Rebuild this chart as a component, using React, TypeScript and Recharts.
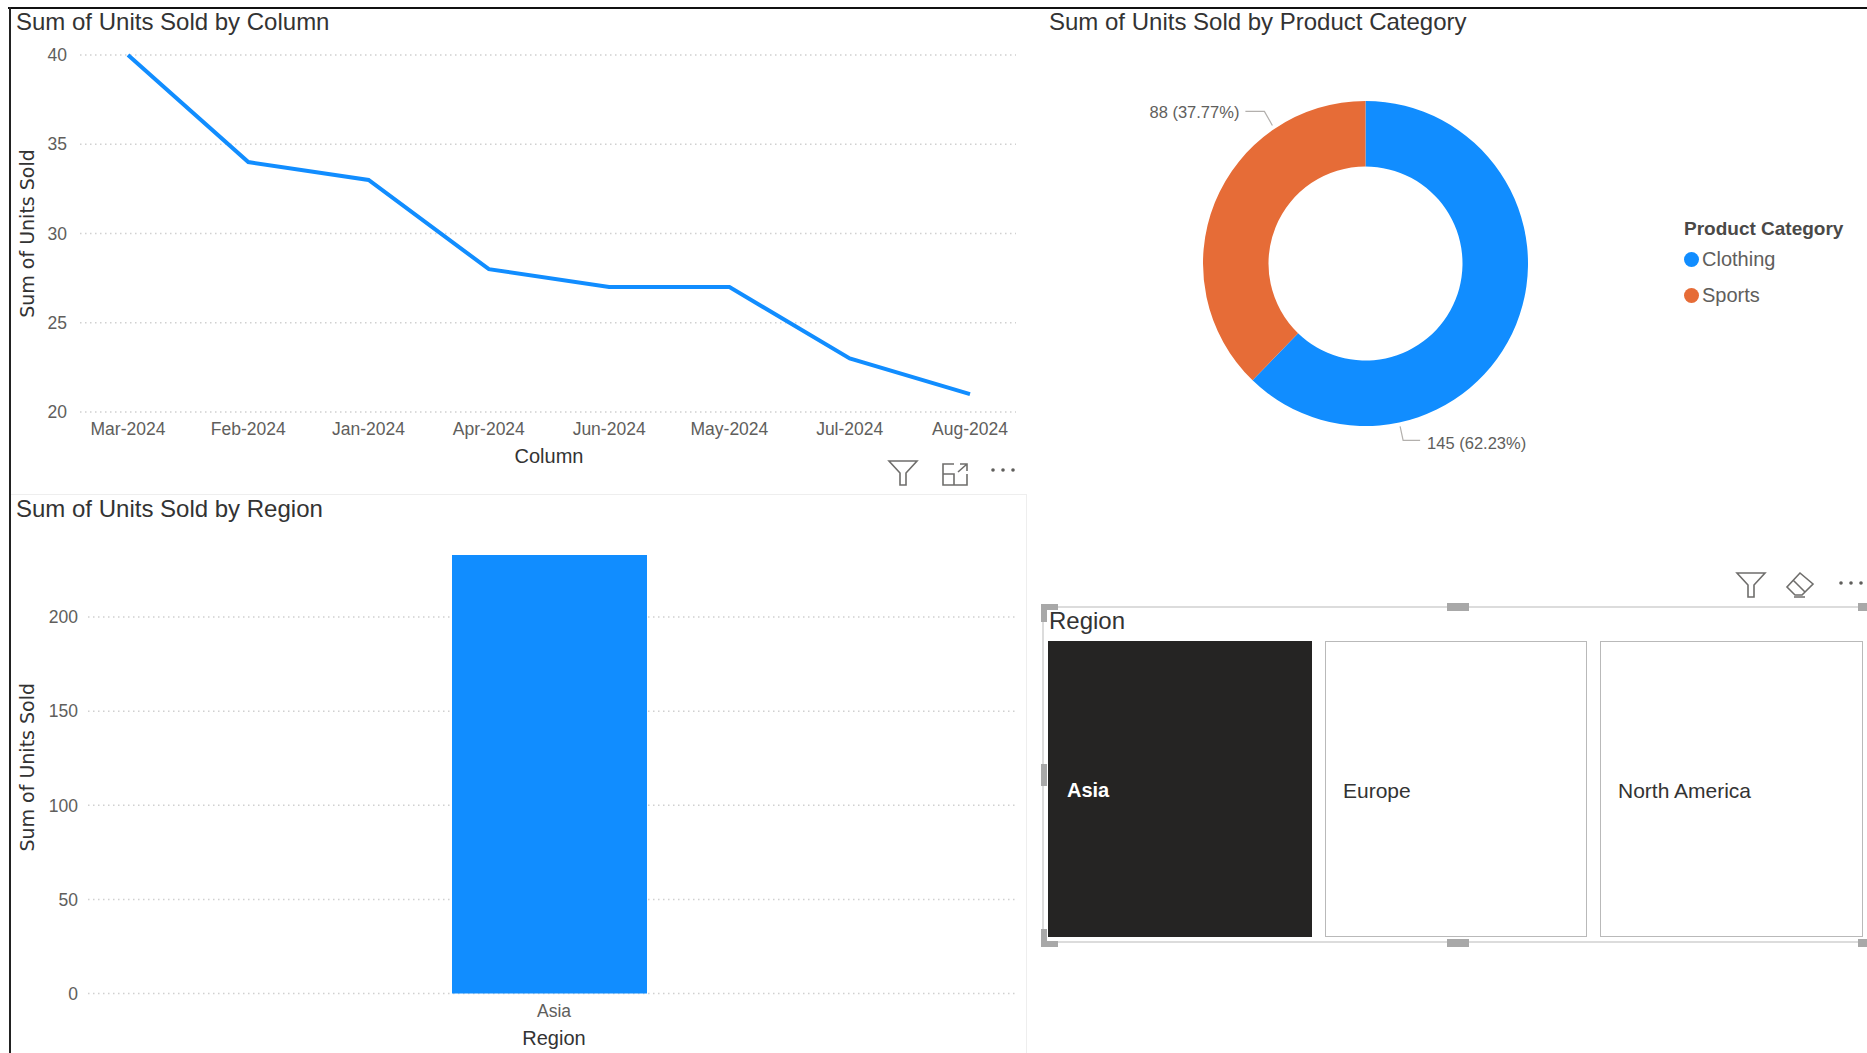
import {
  LineChart,
  Line,
  BarChart,
  Bar,
  PieChart,
  Pie,
  Cell,
  Legend,
  XAxis,
  YAxis,
  CartesianGrid,
} from "recharts"

const months = ["Mar-2024", "Feb-2024", "Jan-2024", "Apr-2024", "Jun-2024", "May-2024", "Jul-2024", "Aug-2024"]
const monthUnits = [40, 34, 33, 28, 27, 27, 23, 21]
const monthTicks = [20, 25, 30, 35, 40]

const regionNames = ["Asia"]
const regionUnits = [233]
const regionTicks = [0, 50, 100, 150, 200]

const categories = ["Clothing", "Sports"]
const categoryUnits = [145, 88]
const categoryLabels = ["145 (62.23%)", "88 (37.77%)"]

const slicerRegions = ["Asia", "Europe", "North America"]

const BLUE = "#118DFF"
const ORANGE = "#E66C37"
const SANS = '"Liberation Sans", sans-serif'
const WIDE = '"DejaVu Sans", sans-serif'
const TEXT = "#333333"
const MUTED = "#605E5C"
const DARK_TILE = "#252423"

const lineData = months.map((month, i) => ({ month, units: monthUnits[i] }))
const barData = regionNames.map((region, i) => ({ region, units: regionUnits[i] }))
const pieData = categories.map((name, i) => ({ name, value: categoryUnits[i], label: categoryLabels[i] }))

function Title({ x, y, children }: { x: number; y: number; children: string }) {
  return (
    <div
      style={{
        position: "absolute",
        left: x,
        top: y,
        fontFamily: SANS,
        fontSize: 24,
        lineHeight: "30px",
        color: TEXT,
        whiteSpace: "nowrap",
      }}
    >
      {children}
    </div>
  )
}

function TrendChart() {
  return (
    <div style={{ position: "absolute", left: 0, top: 0 }}>
      <LineChart width={1040} height={490} data={lineData} margin={{ top: 55, right: 24, bottom: 0, left: 0 }}>
        <CartesianGrid
          vertical={false}
          horizontalValues={monthTicks}
          stroke="#d0d0d0"
          strokeWidth={1.5}
          strokeDasharray="1.5 3.5"
        />
        <XAxis
          dataKey="month"
          height={78}
          axisLine={false}
          tickLine={false}
          tickSize={0}
          tickMargin={11}
          padding={{ left: 48, right: 46 }}
          interval={0}
          tick={{ fontFamily: SANS, fontSize: 17.5, fill: MUTED }}
          label={{
            value: "Column",
            position: "insideBottom",
            offset: 27,
            dx: 1,
            style: { fontFamily: SANS, fontSize: 20, fill: TEXT },
          }}
        />
        <YAxis
          width={80}
          domain={[20, 40]}
          ticks={monthTicks}
          axisLine={false}
          tickLine={false}
          tickSize={0}
          tickMargin={13}
          tick={{ fontFamily: SANS, fontSize: 17.5, fill: MUTED }}
          label={{
            value: "Sum of Units Sold",
            angle: -90,
            position: "insideLeft",
            offset: 27,
            style: { fontFamily: WIDE, fontSize: 19, fill: TEXT, textAnchor: "middle" },
          }}
        />
        <Line dataKey="units" stroke={BLUE} strokeWidth={4} dot={false} strokeLinejoin="miter" isAnimationActive={false} />
      </LineChart>
    </div>
  )
}

function RegionChart() {
  return (
    <div style={{ position: "absolute", left: 0, top: 495 }}>
      <BarChart width={1040} height={558} data={barData} margin={{ top: 60, right: 22, bottom: 0, left: 0 }}>
        <CartesianGrid
          vertical={false}
          horizontalValues={regionTicks}
          stroke="#d0d0d0"
          strokeWidth={1.5}
          strokeDasharray="1.5 3.5"
        />
        <XAxis
          dataKey="region"
          height={59.5}
          axisLine={false}
          tickLine={false}
          tickSize={0}
          tickMargin={11}
          padding={{ left: 0, right: 8 }}
          tick={{ fontFamily: SANS, fontSize: 17.5, fill: MUTED, dx: 5 }}
          label={{
            value: "Region",
            position: "insideBottom",
            offset: 8,
            dx: 1,
            style: { fontFamily: SANS, fontSize: 20, fill: TEXT },
          }}
        />
        <YAxis
          width={88}
          domain={[0, 233]}
          ticks={regionTicks}
          axisLine={false}
          tickLine={false}
          tickSize={0}
          tickMargin={10}
          tick={{ fontFamily: SANS, fontSize: 17.5, fill: MUTED }}
          label={{
            value: "Sum of Units Sold",
            angle: -90,
            position: "insideLeft",
            offset: 27,
            dy: -7,
            style: { fontFamily: WIDE, fontSize: 19, fill: TEXT, textAnchor: "middle" },
          }}
        />
        <Bar dataKey="units" fill={BLUE} barSize={195} isAnimationActive={false} />
      </BarChart>
    </div>
  )
}

// power bi pushes these labels away from the slice middle, so the leaders are set by hand
const leaderLayout: Record<string, { angle: number; elbow: [number, number]; end: [number, number]; anchor: string; dy: number }> = {
  Clothing: { angle: 168, elbow: [3, 14], end: [20, 14], anchor: "start", dy: 4 },
  Sports: { angle: 326, elbow: [-8, -14], end: [-27, -14], anchor: "end", dy: 2 },
}

function renderSliceLabel(props: any) {
  const { cx, cy, outerRadius, name, payload } = props
  const layout = leaderLayout[name]
  const rad = (layout.angle * Math.PI) / 180
  const r = outerRadius + 4
  const sx = cx + Math.sin(rad) * r
  const sy = cy - Math.cos(rad) * r
  const ex = sx + layout.end[0]
  const ey = sy + layout.end[1]
  const textX = ex + (layout.anchor === "start" ? 7 : -6)
  return (
    <g>
      <polyline
        points={`${sx},${sy} ${sx + layout.elbow[0]},${sy + layout.elbow[1]} ${ex},${ey}`}
        fill="none"
        stroke="#b3b0ad"
        strokeWidth={1.2}
      />
      <text
        x={textX}
        y={ey + layout.dy}
        textAnchor={layout.anchor}
        dominantBaseline="middle"
        fontFamily={SANS}
        fontSize={16.5}
        fill={MUTED}
      >
        {payload.label}
      </text>
    </g>
  )
}

function CategoryLegend({ payload }: any) {
  return (
    <div style={{ fontFamily: SANS, color: MUTED }}>
      <div style={{ fontSize: 19, fontWeight: 700, lineHeight: "24px", color: "#4a4947", whiteSpace: "nowrap" }}>
        Product Category
      </div>
      {(payload ?? []).map((item: any) => (
        <div key={item.value} style={{ display: "flex", alignItems: "center", height: 36.5, fontSize: 20 }}>
          <span
            style={{
              width: 15,
              height: 15,
              borderRadius: "50%",
              background: item.color,
              marginRight: 3,
              flex: "none",
            }}
          />
          {item.value}
        </div>
      ))}
    </div>
  )
}

function CategoryChart() {
  return (
    <div style={{ position: "absolute", left: 1040, top: 0 }}>
      <PieChart width={827} height={520} margin={{ top: 0, right: 0, bottom: 0, left: 0 }}>
        <Pie
          data={pieData}
          dataKey="value"
          nameKey="name"
          cx={325.5}
          cy={263.5}
          innerRadius={97}
          outerRadius={162.5}
          startAngle={90}
          endAngle={-270}
          stroke="none"
          label={renderSliceLabel}
          labelLine={false}
          isAnimationActive={false}
        >
          <Cell fill={BLUE} />
          <Cell fill={ORANGE} />
        </Pie>
        <Legend
          content={<CategoryLegend />}
          layout="vertical"
          wrapperStyle={{ position: "absolute", left: 644, top: 217, width: 180, bottom: "auto", right: "auto" }}
        />
      </PieChart>
    </div>
  )
}

function Funnel({ x, y }: { x: number; y: number }) {
  return (
    <svg style={{ position: "absolute", left: x, top: y }} width={32} height={28} viewBox="0 0 32 28">
      <path d="M2 2 H30 L19 14 V26 H13 V14 Z" fill="none" stroke="#6f6e6c" strokeWidth={1.6} />
    </svg>
  )
}

function Dots({ x, y }: { x: number; y: number }) {
  return (
    <svg style={{ position: "absolute", left: x, top: y }} width={28} height={6} viewBox="0 0 28 6">
      <circle cx={3} cy={3} r={1.8} fill="#605E5C" />
      <circle cx={13} cy={3} r={1.8} fill="#605E5C" />
      <circle cx={23} cy={3} r={1.8} fill="#605E5C" />
    </svg>
  )
}

function Handle({ x, y, w, h }: { x: number; y: number; w: number; h: number }) {
  return <div style={{ position: "absolute", left: x, top: y, width: w, height: h, background: "#a8a8a8" }} />
}

function Slicer() {
  const tiles = [
    { left: 1048, width: 264 },
    { left: 1325, width: 262 },
    { left: 1600, width: 263 },
  ]
  return (
    <>
      <div
        style={{
          position: "absolute",
          left: 1042,
          top: 606,
          width: 840,
          height: 337,
          border: "2px solid #dcdcdc",
          boxSizing: "border-box",
        }}
      />
      <Handle x={1041} y={604} w={17} h={6} />
      <Handle x={1041} y={604} w={6} h={18} />
      <Handle x={1447} y={603} w={22} h={8} />
      <Handle x={1858} y={603} w={9} h={8} />
      <Handle x={1041} y={764} w={6} h={22} />
      <Handle x={1041} y={941} w={17} h={6} />
      <Handle x={1041} y={929} w={6} h={18} />
      <Handle x={1447} y={939} w={22} h={8} />
      <Handle x={1858} y={939} w={9} h={8} />
      <Title x={1049} y={606}>Region</Title>
      {slicerRegions.map((region, i) => {
        const selected = i === 0
        return (
          <div
            key={region}
            style={{
              position: "absolute",
              left: tiles[i].left,
              top: 641,
              width: tiles[i].width,
              height: 296,
              boxSizing: "border-box",
              background: selected ? DARK_TILE : "#fff",
              border: selected ? "none" : "1.5px solid #b9b9b9",
              color: selected ? "#fff" : TEXT,
              fontFamily: SANS,
              fontSize: selected ? 20 : 21,
              fontWeight: selected ? 700 : 400,
              paddingLeft: selected ? 19 : 17,
              display: "flex",
              alignItems: "center",
              paddingTop: 3,
            }}
          >
            {region}
          </div>
        )
      })}
    </>
  )
}

export default function App() {
  return (
    <div
      style={{
        position: "absolute",
        left: 0,
        top: 0,
        width: 1867,
        height: 1053,
        background: "#fff",
        overflow: "hidden",
      }}
    >
      <div style={{ position: "absolute", left: 8, top: 7, width: 1859, height: 2, background: "#111" }} />
      <div style={{ position: "absolute", left: 9, top: 7, width: 2, height: 1046, background: "#222" }} />
      <div
        style={{
          position: "absolute",
          left: 11,
          top: 494,
          width: 1016,
          height: 559,
          borderTop: "1.5px solid #eeeeee",
          borderRight: "1.5px solid #eeeeee",
          boxSizing: "border-box",
        }}
      />

      <TrendChart />
      <RegionChart />
      <CategoryChart />

      <Title x={16} y={7}>Sum of Units Sold by Column</Title>
      <Title x={16} y={494}>Sum of Units Sold by Region</Title>
      <Title x={1049} y={7}>Sum of Units Sold by Product Category</Title>

      <Funnel x={887} y={459} />
      <svg style={{ position: "absolute", left: 941, top: 462 }} width={28} height={25} viewBox="0 0 28 25">
        <path d="M13 2 H2 V23 H26 V12 M2 12 H13 V23 M17 10 L26 2 M19 2 H26 V9" fill="none" stroke="#6f6e6c" strokeWidth={1.6} />
      </svg>
      <Dots x={990} y={467} />

      <Funnel x={1735} y={571} />
      <svg style={{ position: "absolute", left: 1785, top: 571 }} width={30} height={27} viewBox="0 0 30 27">
        <path d="M15 2 L28 13 L17 24 H10 L2 16 Z M8 9 L20 21 M9 26 H20" fill="none" stroke="#6f6e6c" strokeWidth={1.6} />
      </svg>
      <Dots x={1838} y={580} />

      <Slicer />
    </div>
  )
}
